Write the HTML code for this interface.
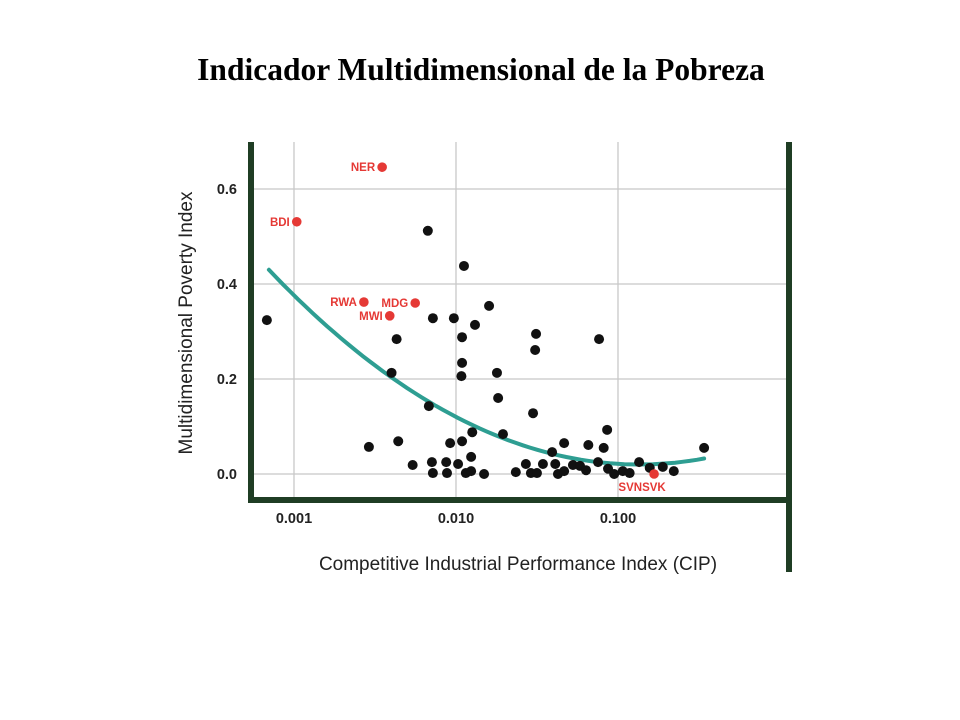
<!DOCTYPE html>
<html><head><meta charset="utf-8"><style>
html,body{margin:0;padding:0;background:#fff;width:960px;height:720px;overflow:hidden}
svg{display:block}
</style></head><body>
<svg id="chart" width="960" height="720" xmlns="http://www.w3.org/2000/svg">
<text x="481" y="80" text-anchor="middle" font-family="Liberation Serif, serif" font-weight="bold" font-size="31.5">Indicador Multidimensional de la Pobreza</text>
<g id="grid"></g>
<g id="frame">
<rect x="248" y="142" width="6" height="361" fill="#1f3d24"/>
<rect x="248" y="497" width="543" height="6" fill="#1f3d24"/>
<rect x="786" y="142" width="6" height="430" fill="#1f3d24"/>
</g>
<g id="ticks"></g>
<path id="fit" fill="none" stroke="#2e9e92" stroke-width="4" stroke-linecap="round"/>
<g id="points"></g>
<g id="labeled"></g>
<text transform="translate(192,323) rotate(-90)" text-anchor="middle" font-family="Liberation Sans, sans-serif" font-size="19" fill="#222">Multidimensional Poverty Index</text>
<text x="518" y="570" text-anchor="middle" font-family="Liberation Sans, sans-serif" font-size="19" fill="#222">Competitive Industrial Performance Index (CIP)</text>
</svg>
<script>
const xTicks=[0.001,0.01,0.1];
const xTickLabels=["0.001","0.010","0.100"];
const yTicks=[0,0.2,0.4,0.6];
const yTickLabels=["0.0","0.2","0.4","0.6"];
const cipValues=[0.00068,0.0067,0.0112,0.0072,0.0097,0.0131,0.0160,0.0312,0.0308,0.0764,0.0043,0.0109,0.0109,0.0108,0.0040,0.0179,0.0182,0.0068,0.0299,0.0195,0.0029,0.0044,0.0092,0.0109,0.0126,0.0054,0.0071,0.0087,0.0103,0.0124,0.0072,0.0088,0.0115,0.0124,0.0149,0.0234,0.0270,0.029,0.0316,0.0344,0.0392,0.041,0.0426,0.0465,0.0465,0.0527,0.0583,0.0635,0.0656,0.0753,0.0816,0.0857,0.0868,0.0947,0.107,0.118,0.135,0.157,0.189,0.221,0.340];
const mpiValues=[0.324,0.512,0.438,0.328,0.328,0.314,0.354,0.295,0.261,0.284,0.284,0.288,0.234,0.206,0.213,0.213,0.160,0.143,0.128,0.084,0.057,0.069,0.065,0.069,0.088,0.019,0.025,0.025,0.021,0.036,0.002,0.002,0.002,0.006,0.0,0.004,0.021,0.002,0.002,0.021,0.046,0.021,0.0,0.006,0.065,0.019,0.017,0.008,0.061,0.025,0.055,0.093,0.011,0.0,0.006,0.002,0.025,0.013,0.015,0.006,0.055];
const labelNames=["NER","BDI","RWA","MDG","MWI","SVNSVK"];
const labelCip=[0.0035,0.00104,0.0027,0.0056,0.0039,0.167];
const labelMpi=[0.646,0.531,0.362,0.360,0.333,0.0];
const fitCoef=[0.0785,-0.87,0.02]; // y = a*(log10 x - b)^2 + c
const fitRange=[0.0007,0.34];

const NS="http://www.w3.org/2000/svg";
function X(v){return 294+(Math.log10(v)+3)*162;}
function Y(v){return 474-v*475;}
function mk(tag,attrs,parent){const e=document.createElementNS(NS,tag);for(const k in attrs)e.setAttribute(k,attrs[k]);parent.appendChild(e);return e;}
const grid=document.getElementById('grid'),ticks=document.getElementById('ticks');
yTicks.forEach((t,i)=>{
 const l=mk('line',{x1:254,x2:786,y1:Y(t),y2:Y(t),stroke:'#c8c8c8','stroke-width':1.3},grid);
 
 
 const tx=mk('text',{x:237,y:Y(t)+5,'text-anchor':'end','font-family':'Liberation Sans, sans-serif','font-weight':'bold','font-size':14.5,fill:'#222'},ticks);
 tx.textContent=yTickLabels[i];
 
 
});
xTicks.forEach((t,i)=>{
 const l=mk('line',{x1:X(t),x2:X(t),y1:142,y2:497,stroke:'#c8c8c8','stroke-width':1.3},grid);
 
 
 const tx=mk('text',{x:X(t),y:523,'text-anchor':'middle','font-family':'Liberation Sans, sans-serif','font-weight':'bold','font-size':14.5,fill:'#222'},ticks);
 tx.textContent=xTickLabels[i];
 
 
});
let d="";
const L0=Math.log10(fitRange[0]),L1=Math.log10(fitRange[1]);
for(let i=0;i<=60;i++){const L=L0+(L1-L0)*i/60;const y=fitCoef[0]*(L-fitCoef[1])**2+fitCoef[2];d+=(i?"L":"M")+X(10**L).toFixed(1)+","+Y(y).toFixed(1);}
document.getElementById('fit').setAttribute('d',d);
const pts=document.getElementById('points');
cipValues.forEach((c,i)=>{
 const p=mk('circle',{cx:X(c),cy:Y(mpiValues[i]),r:5,fill:'#111'},pts);
 
 
});
const lab=document.getElementById('labeled');
labelNames.forEach((n,i)=>{
 const cx=X(labelCip[i]),cy=Y(labelMpi[i]);
 const p=mk('circle',{cx:cx,cy:cy,r:4.8,fill:'#e53935'},lab);
 
 
 const last=n==="SVNSVK";
 const t=mk('text',{x:last?cx-12:cx-7,y:last?cy+17:cy+4,'text-anchor':last?'middle':'end','font-family':'Liberation Sans, sans-serif','font-weight':'bold','font-size':11.5,fill:'#e53935'},lab);
 t.textContent=n;
 
 
});
</script>
</body></html>
